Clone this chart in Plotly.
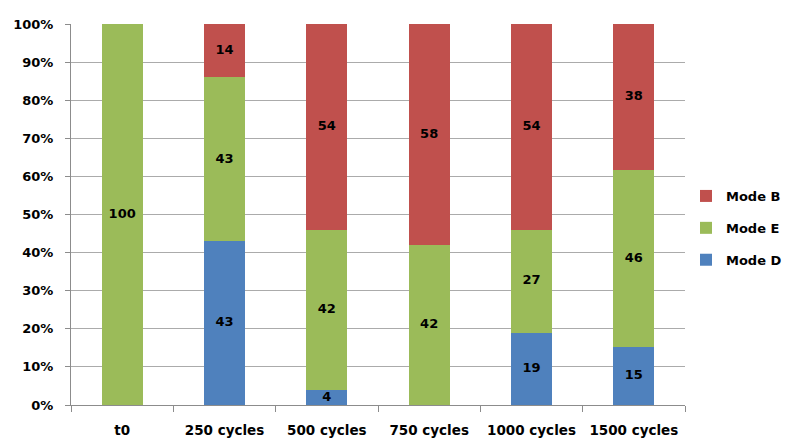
import plotly.graph_objects as go

categories = ["t0", "250 cycles", "500 cycles", "750 cycles", "1000 cycles", "1500 cycles"]
mode_d = [0, 43, 4, 0, 19, 15]
mode_e = [100, 43, 42, 42, 27, 46]
mode_b = [0, 14, 54, 58, 54, 38]
y_ticks = list(range(0, 101, 10))

series = [
    ("Mode D", mode_d, "#4F81BD", 3),
    ("Mode E", mode_e, "#9BBB59", 2),
    ("Mode B", mode_b, "#C0504D", 1),
]

fnt = "DejaVu Sans, Verdana, sans-serif"

fig = go.Figure()
totals = [sum(v) for v in zip(mode_d, mode_e, mode_b)]
base = [0.0] * len(categories)
label_x, label_y, label_t = [], [], []
for name, vals, color, rank in series:
    fig.add_trace(go.Bar(
        x=categories, y=vals, name=name,
        marker=dict(color=color, line=dict(width=0)),
        legendgroup=name, legendrank=rank,
        hoverinfo="skip",
    ))
    for i, v in enumerate(vals):
        pct = v / totals[i] * 100
        if v:
            label_x.append(categories[i])
            label_y.append(base[i] + pct / 2)
            label_t.append(str(v))
        base[i] += pct

fig.add_trace(go.Scatter(
    x=label_x, y=label_y, text=label_t, mode="text",
    textfont=dict(color="black", size=13, family=fnt, weight="bold"),
    showlegend=False, hoverinfo="skip", cliponaxis=False,
))

fig.update_layout(
    barmode="stack", barnorm="percent", bargap=0.6,
    width=785, height=431,
    margin=dict(l=63, r=108, t=16, b=34, autoexpand=False),
    paper_bgcolor="white", plot_bgcolor="white",
    font=dict(family=fnt, size=13, color="black"),
    legend=dict(
        x=1.0016, xanchor="left", y=0.4646, yanchor="middle",
        traceorder="grouped", tracegroupgap=12,
        font=dict(size=13, family=fnt, color="black", weight="bold"),
    ),
)
fig.update_xaxes(
    automargin=False,
    showline=True, linecolor="#8C8C8C", linewidth=1,
    ticks="outside", tickson="boundaries", ticklen=6, tickcolor="#8C8C8C",
    ticklabelstandoff=13,
    tickfont=dict(size=13.5, family=fnt, color="black", weight="bold"),
    showgrid=False,
)
fig.update_yaxes(
    automargin=False,
    range=[0, 100], tickvals=y_ticks,
    ticktext=[f"{v}%" for v in y_ticks],
    showline=True, linecolor="#8C8C8C", linewidth=1,
    ticks="outside", ticklen=5, tickcolor="#8C8C8C",
    ticklabelstandoff=9,
    showgrid=True, gridcolor="#ABABAB", gridwidth=1,
    tickfont=dict(size=13, family=fnt, color="black", weight="bold"),
    zeroline=False,
)

fig.write_html("out.html")
